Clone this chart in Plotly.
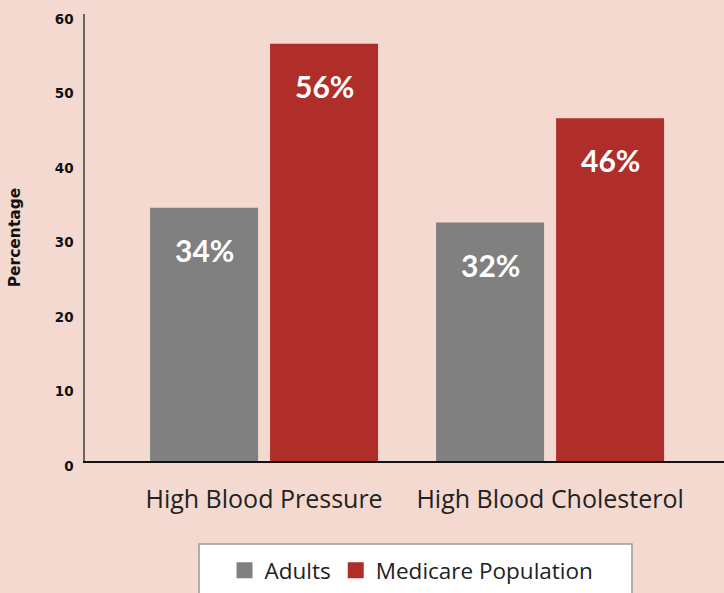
import plotly.graph_objects as go

categories = ["High Blood Pressure", "High Blood Cholesterol"]
adults = [34, 32]
medicare = [56, 46]
series_names = ["Adults", "Medicare Population"]
y_ticks = [0, 10, 20, 30, 40, 50, 60]

GRAY = "#7f807f"
RED = "#b02e29"
BG = "#f3d9d0"
FONT = "Lato"
REG = "Open Sans"
BOLD = "DejaVu Sans"

fig = go.Figure()
series = [(series_names[0], adults, GRAY, -60), (series_names[1], medicare, RED, 60)]
for name, vals, color, shift in series:
    fig.add_bar(x=categories, y=vals, name=name, marker=dict(color=color, line=dict(width=0)),
                showlegend=False, hoverinfo="skip")
    fig.add_scatter(x=[None], y=[None], mode="markers", name=name,
                    marker=dict(symbol="square", size=16, color=color), showlegend=True)
    for cat, v in zip(categories, vals):
        fig.add_annotation(x=cat, y=v, xshift=shift, yshift=-42, text=f"{v}%", showarrow=False,
                           yanchor="middle",
                           font=dict(family=FONT, size=30, color="white", weight="bold"))

# legend frame (decoration)
fig.add_shape(type="rect", xref="paper", yref="paper", x0=0.1784, x1=0.856, y0=-0.32, y1=-0.1857,
              fillcolor="white", line=dict(color="#999", width=1.5), layer="below")

fig.update_layout(
    width=724, height=593,
    margin=dict(l=85, r=0, t=14, b=132, autoexpand=False),
    paper_bgcolor=BG, plot_bgcolor=BG,
    barmode="group", bargap=0.161, bargroupgap=0.1,
    font=dict(family=REG, color="#111"),
    xaxis=dict(range=[-0.626, 1.608], showline=True, linecolor="#111", linewidth=1.5,
               showgrid=False, zeroline=False, ticks="", ticklabelstandoff=15,
               tickfont=dict(family=REG, size=25, color="#222")),
    yaxis=dict(range=[0, 60], tickvals=y_ticks, showline=True, linecolor="#666", linewidth=1.5,
               showgrid=False, zeroline=False, ticks="", ticklabelstandoff=7, ticklabelshift=5,
               tickfont=dict(family=BOLD, size=13.5, color="#111", weight="bold"),
               title=dict(text="Percentage", standoff=30,
                          font=dict(family=BOLD, size=15.5, color="#111", weight="bold"))),
    legend=dict(orientation="h", x=0.511, xanchor="center", y=-0.197, yanchor="top",
                bgcolor="rgba(0,0,0,0)", borderwidth=0,
                font=dict(family=REG, size=22.5, color="#222")),
)

fig.write_html("out.html", config={"displayModeBar": False},
               post_script="document.body.style.margin='0px';")
